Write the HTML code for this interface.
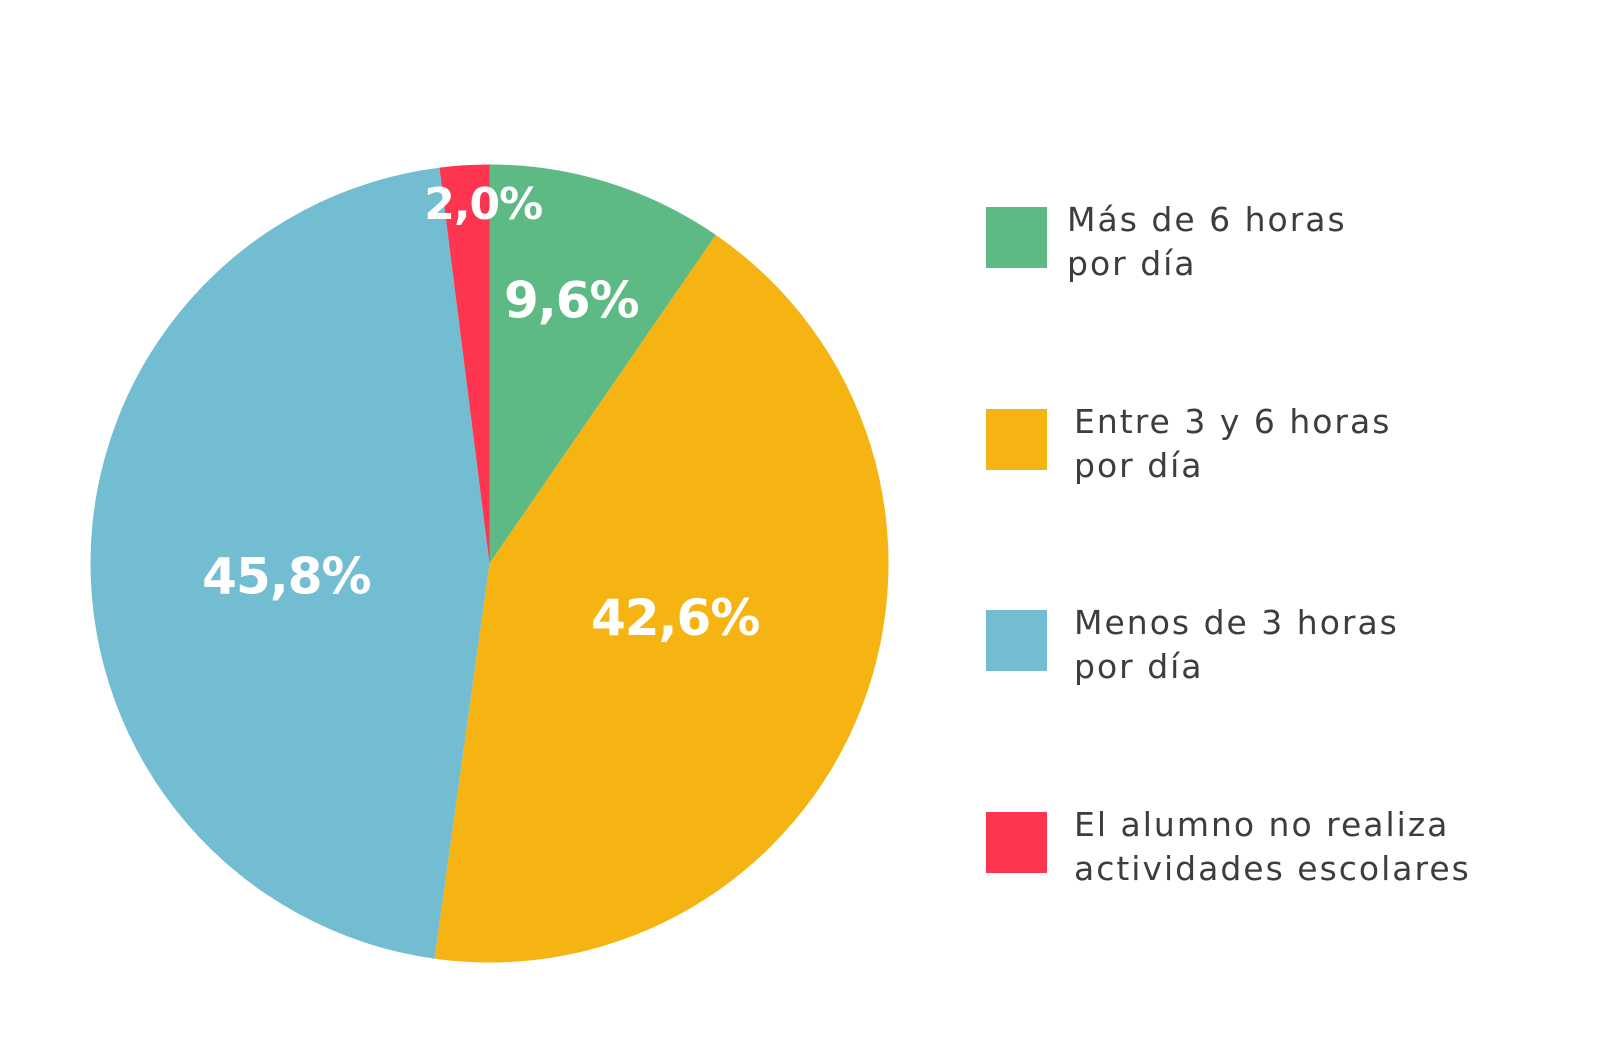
<!DOCTYPE html>
<html><head><meta charset="utf-8">
<style>
html,body{margin:0;padding:0;background:#fff;}
body{width:1600px;height:1062px;overflow:hidden;position:relative;font-family:"DejaVu Sans","Liberation Sans",sans-serif;}
.leg{position:absolute;left:986px;width:61px;height:61px;}
.lt{position:absolute;font-size:33px;line-height:44px;color:#3d3d3d;letter-spacing:2px;}
</style></head>
<body>
<svg id="chart" width="1600" height="1062" style="position:absolute;left:0;top:0"></svg>

<div class="leg" style="top:207px;background:#5dba84"></div>
<div class="lt" style="left:1067px;top:198px">Más de 6 horas<br>por día</div>
<div class="leg" style="top:409px;background:#f5b412"></div>
<div class="lt" style="left:1074px;top:400px">Entre 3 y 6 horas<br>por día</div>
<div class="leg" style="top:610px;background:#72bdd2"></div>
<div class="lt" style="left:1074px;top:601px">Menos de 3 horas<br>por día</div>
<div class="leg" style="top:812px;background:#fd354f"></div>
<div class="lt" style="left:1074px;top:803px">El alumno no realiza<br>actividades escolares</div>

<script>
const categories = ["Más de 6 horas por día","Entre 3 y 6 horas por día","Menos de 3 horas por día","El alumno no realiza actividades escolares"];
const values = [9.6, 42.6, 45.8, 2.0];
const valueLabels = ["9,6%","42,6%","45,8%","2,0%"];
const colors = ["#5dba84","#f5b412","#72bdd2","#fd354f"];
const labelRadiusFrac = [0.69, 0.485, 0.51, 0.90];
const labelAngleOffsetDeg = [0, -4.9, -4, 2.6];
const labelSizes = [50, 50, 50, 44];

const NS = "http://www.w3.org/2000/svg";
const svg = document.getElementById("chart");
const cx = 489.5, cy = 563.5, R = 399;
const total = values.reduce((a,b)=>a+b,0);
function pt(frac, r){ const a = frac*2*Math.PI - Math.PI/2; return [cx + r*Math.cos(a), cy + r*Math.sin(a)]; }
let acc = 0;
values.forEach((v,i)=>{
  const f0 = acc/total, f1 = (acc+v)/total;
  const [x0,y0] = pt(f0,R), [x1,y1] = pt(f1,R);
  const large = (f1-f0) > 0.5 ? 1 : 0;
  const p = document.createElementNS(NS,"path");
  p.setAttribute("d",`M${cx},${cy} L${x0},${y0} A${R},${R} 0 ${large} 1 ${x1},${y1} Z`);
  p.setAttribute("fill",colors[i]);
  
  
  svg.appendChild(p);
  const [lx,ly] = pt((f0+f1)/2 + labelAngleOffsetDeg[i]/360, R*labelRadiusFrac[i]);
  const t = document.createElementNS(NS,"text");
  t.setAttribute("x",lx); t.setAttribute("y",ly);
  t.setAttribute("text-anchor","middle"); t.setAttribute("dominant-baseline","central");
  t.setAttribute("fill","#fff"); t.setAttribute("font-weight","bold");
  t.setAttribute("font-size",labelSizes[i]);
  t.setAttribute("font-family","DejaVu Sans, Liberation Sans, sans-serif");
  t.setAttribute("letter-spacing","-1");
  t.textContent = valueLabels[i];
  
  
  svg.appendChild(t);
  acc += v;
});
</script>
</body></html>
